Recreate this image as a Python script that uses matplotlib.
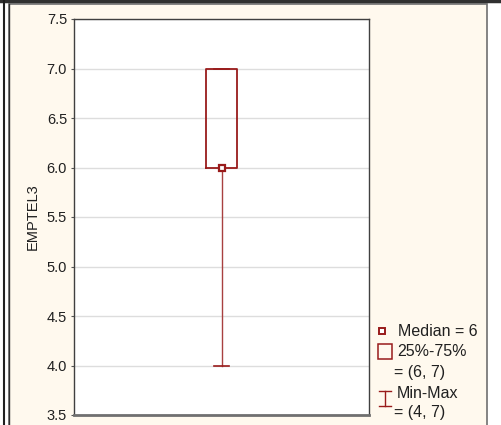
import matplotlib
matplotlib.use("Agg")
import matplotlib.pyplot as plt
from matplotlib.patches import Rectangle
from matplotlib.lines import Line2D

plt.rcParams['font.family'] = ['Liberation Sans', 'DejaVu Sans']

variable = "EMPTEL3"
stat_min = 4
stat_q1 = 6
stat_median = 6
stat_q3 = 7
stat_max = 7
y_ticks = [3.5, 4.0, 4.5, 5.0, 5.5, 6.0, 6.5, 7.0, 7.5]

W, H = 501, 425
fig = plt.figure(figsize=(W / 100, H / 100), dpi=100)
fig.patch.set_facecolor('white')

bg = '#FFF9EE'
red = '#991B1B'

def px_rect(x0, y0, x1, y1, **kw):
    # rectangle in pixel coordinates (origin top-left)
    r = Rectangle((x0 / W, 1 - y1 / H), (x1 - x0) / W, (y1 - y0) / H,
                  transform=fig.transFigure, **kw)
    fig.add_artist(r)

# window frame
px_rect(9, 4, 487, 426, facecolor=bg, edgecolor='#707070', lw=1.2, zorder=-5)
fig.add_artist(Line2D([0, 1], [1 - 1 / H, 1 - 1 / H], transform=fig.transFigure,
                      color='#303030', lw=2.5, zorder=-4))
fig.add_artist(Line2D([4 / W, 4 / W], [0, 1], transform=fig.transFigure,
                      color='#202020', lw=1.5, zorder=-4))
fig.add_artist(Line2D([8.5 / W, 8.5 / W], [0, 1 - 4 / H], transform=fig.transFigure,
                      color='#303030', lw=1.0, zorder=-4))

ax_l, ax_r, ax_t, ax_b = 74, 369, 19, 415
ax = fig.add_axes([ax_l / W, 1 - ax_b / H, (ax_r - ax_l) / W, (ax_b - ax_t) / H])
ax.set_facecolor('white')

stats = [dict(whislo=stat_min, q1=stat_q1, med=stat_median, q3=stat_q3,
              whishi=stat_max, fliers=[], label='')]
ax.bxp(stats, positions=[0], widths=0.102, capwidths=0.05, showfliers=False,
       boxprops=dict(color=red, lw=1.3),
       whiskerprops=dict(color='#A84040', lw=1.0),
       capprops=dict(color=red, lw=1.2),
       medianprops=dict(lw=0, color=red),
       zorder=3)
ax.plot([0], [stat_median], marker='s', ms=5, mfc='white', mec=red, mew=1.6,
        ls='none', zorder=4)

ax.set_xlim(-0.5, 0.5)
ax.set_ylim(y_ticks[0], y_ticks[-1])
ax.set_yticks(y_ticks)
ax.set_yticklabels([f"{v:.1f}" for v in y_ticks], fontsize=10.5, color='#202020')
ax.set_xticks([])
ax.yaxis.grid(True, color='#DDDDDD', lw=1.0, zorder=0)
ax.set_axisbelow(True)
ax.tick_params(axis='y', length=2, width=0.8, color='#555555', pad=3)
for s in ax.spines.values():
    s.set_color('#404040')
    s.set_linewidth(1.0)
ax.spines['bottom'].set_color('#707070')
ax.spines['bottom'].set_linewidth(2.0)
ax.set_ylabel(variable, fontsize=10.5, color='#202020', labelpad=5)

# legend
def fx(px):
    return px / W

def fy(py):
    return 1 - py / H

fs = 11.5
fig.add_artist(Line2D([fx(382)], [fy(331)], transform=fig.transFigure, marker='s',
                      ms=4, mfc='white', mec=red, mew=1.4, ls='none'))
fig.text(fx(398), fy(331), f"Median = {stat_median}", fontsize=fs, va='center',
         color='#202020')
px_rect(378, 344, 392, 359, facecolor='none', edgecolor=red, lw=1.1)
fig.text(fx(397), fy(352), "25%-75%", fontsize=fs, va='center', color='#202020')
fig.text(fx(394), fy(372), f"= ({stat_q1}, {stat_q3})", fontsize=fs, va='center',
         color='#202020')
ix = 385
fig.add_artist(Line2D([fx(ix), fx(ix)], [fy(391), fy(406)], transform=fig.transFigure,
                      color=red, lw=1.0))
fig.add_artist(Line2D([fx(ix - 6), fx(ix + 6)], [fy(391), fy(391)],
                      transform=fig.transFigure, color=red, lw=1.0))
fig.add_artist(Line2D([fx(ix - 6), fx(ix + 6)], [fy(406), fy(406)],
                      transform=fig.transFigure, color=red, lw=1.0))
fig.text(fx(397), fy(394), "Min-Max", fontsize=fs, va='center', color='#202020')
fig.text(fx(394), fy(413), f"= ({stat_min}, {stat_max})", fontsize=fs, va='center',
         color='#202020')

fig.savefig("out.png", dpi=100, facecolor=fig.get_facecolor())
